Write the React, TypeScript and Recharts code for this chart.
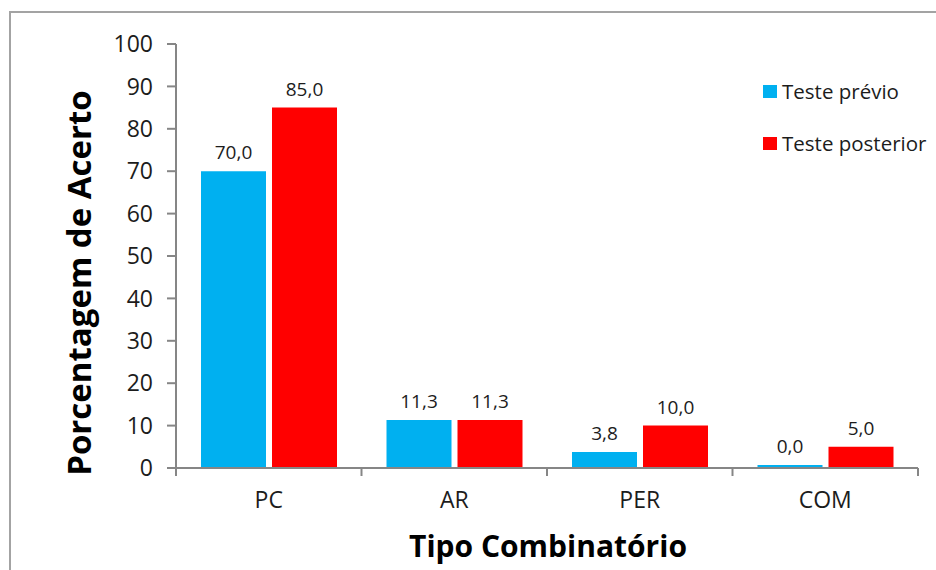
import React from 'react';
import { BarChart, Bar, XAxis, YAxis, LabelList, Legend } from 'recharts';

// Categories and percentages of correct answers per combinatorial type
const categories = ['PC', 'AR', 'PER', 'COM'];
const testePrevio = [70.0, 11.3, 3.8, 0.0];
const testePosterior = [85.0, 11.3, 10.0, 5.0];
const yTicks = [0, 10, 20, 30, 40, 50, 60, 70, 80, 90, 100];

const seriesNames = { previo: 'Teste prévio', posterior: 'Teste posterior' };
const BLUE = '#00B0F0';
const RED = '#FF0000';
const AXIS = '#868686';
const TEXT = '#1c1c1c';
const FONT = '"Open Sans", "Noto Sans", sans-serif';

const data = categories.map((c, i) => ({
  cat: c,
  previo: testePrevio[i],
  posterior: testePosterior[i],
}));

const W = 936;
const H = 570;
const MARGIN = { top: 44, right: 18, bottom: 62, left: 116 };
const Y_AXIS_W = 60;
const X_AXIS_H = 40;
const PLOT_LEFT = MARGIN.left + Y_AXIS_W;
const PLOT_RIGHT = W - MARGIN.right;
const BAND = (PLOT_RIGHT - PLOT_LEFT) / categories.length;

const fmt = (v: any) => Number(v).toFixed(1).replace('.', ',');

// Category label centred in the band, with tick marks on the band edges
const XTick = (props: any) => {
  const { x, y, payload, index } = props;
  const left = x - BAND / 2;
  const right = x + BAND / 2;
  return (
    <g>
      <line x1={left} y1={y} x2={left} y2={y + 8} stroke={AXIS} strokeWidth={2} />
      {index === categories.length - 1 && (
        <line x1={right} y1={y} x2={right} y2={y + 8} stroke={AXIS} strokeWidth={2} />
      )}
      <text x={x} y={y + 40} textAnchor="middle" fill={TEXT} fontSize={23} fontFamily={FONT}>
        {payload.value}
      </text>
    </g>
  );
};

const LegendContent = () => {
  const items = [
    { name: seriesNames.previo, color: BLUE },
    { name: seriesNames.posterior, color: RED },
  ];
  return (
    <div style={{ fontFamily: FONT, fontSize: 20.5, color: TEXT }}>
      {items.map((it, i) => (
        <div
          key={it.name}
          style={{ display: 'flex', alignItems: 'center', height: 26, marginBottom: i === 0 ? 26 : 0 }}
        >
          <span
            style={{ display: 'inline-block', width: 14, height: 13, background: it.color, marginRight: 5 }}
          />
          <span style={{ whiteSpace: 'nowrap' }}>{it.name}</span>
        </div>
      ))}
    </div>
  );
};

export default function App() {
  return (
    <div style={{ position: 'absolute', left: 0, top: 0, width: W, height: H, overflow: 'hidden', background: '#fff' }}>
      <div
        style={{
          position: 'absolute',
          left: 9,
          top: 11,
          width: 1200,
          height: 1200,
          border: '2px solid #a3a3a3',
          boxSizing: 'border-box',
        }}
      />
      <div style={{ position: 'absolute', left: 0, top: 0 }}>
        <BarChart
          width={W}
          height={H}
          data={data}
          margin={MARGIN}
          barCategoryGap={25}
          barGap={6}
        >
          <XAxis
            dataKey="cat"
            height={X_AXIS_H}
            stroke={AXIS}
            strokeWidth={2}
            tickLine={false}
            tickSize={0}
            tickMargin={0}
            tick={<XTick />}
            interval={0}
          />
          <YAxis
            width={Y_AXIS_W}
            domain={[0, 100]}
            ticks={yTicks}
            interval={0}
            stroke={AXIS}
            strokeWidth={2}
            tickSize={9}
            tickMargin={14}
            tick={{ fill: TEXT, fontSize: 23, fontFamily: FONT }}
          />
          <Legend
            layout="vertical"
            align="center"
            verticalAlign="middle"
            wrapperStyle={{ position: 'absolute', left: 763, top: 78, width: 180 }}
            content={<LegendContent />}
          />
          <Bar dataKey="previo" name={seriesNames.previo} fill={BLUE} minPointSize={3} isAnimationActive={false}>
            <LabelList
              dataKey="previo"
              position="top"
              offset={12}
              formatter={fmt}
              fill={TEXT}
              fontSize={19}
              fontFamily={FONT}
            />
          </Bar>
          <Bar dataKey="posterior" name={seriesNames.posterior} fill={RED} isAnimationActive={false}>
            <LabelList
              dataKey="posterior"
              position="top"
              offset={12}
              formatter={fmt}
              fill={TEXT}
              fontSize={19}
              fontFamily={FONT}
            />
          </Bar>
        </BarChart>
      </div>
      <svg
        width={W}
        height={H}
        style={{ position: 'absolute', left: 0, top: 0, pointerEvents: 'none' }}
      >
        <text
          transform="translate(78, 283) rotate(-90)"
          textAnchor="middle"
          dominantBaseline="central"
          fontFamily={FONT}
          fontWeight="bold"
          fontSize={33}
          fill="#000"
        >
          Porcentagem de Acerto
        </text>
        <text x={548} y={557} textAnchor="middle" fontFamily={FONT} fontWeight="bold" fontSize={30} fill="#000">
          Tipo Combinatório
        </text>
      </svg>
    </div>
  );
}
